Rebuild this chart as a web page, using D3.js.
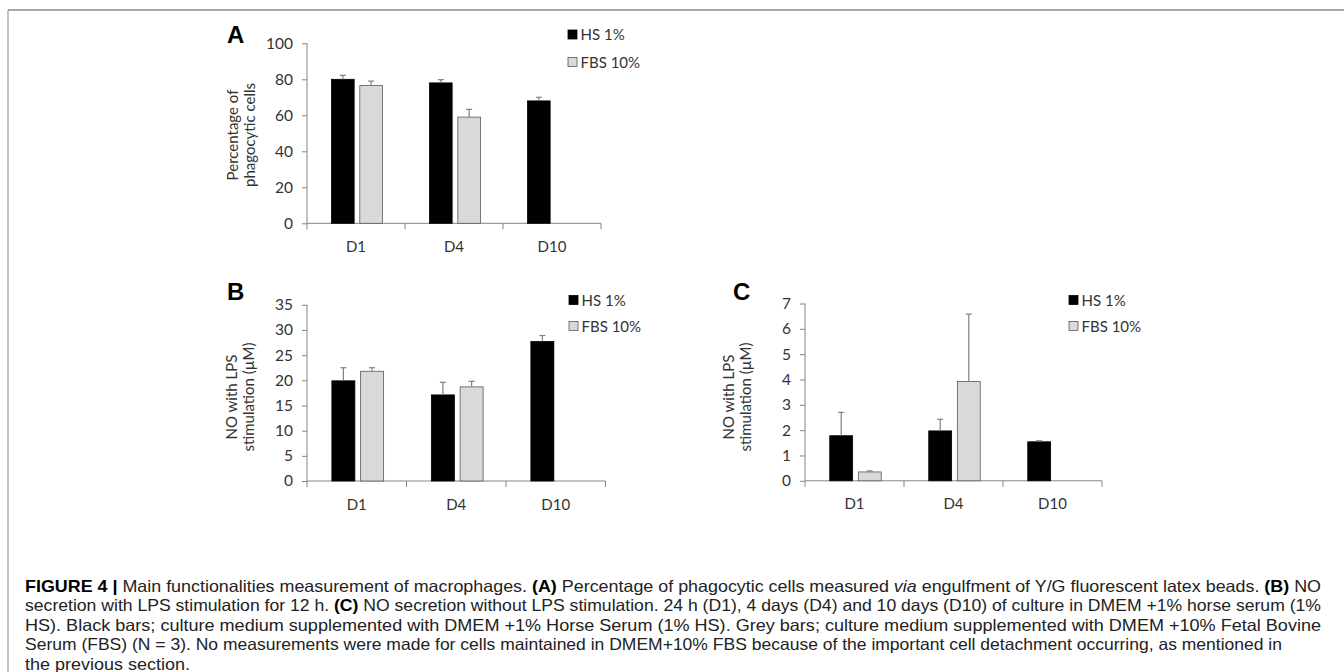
<!DOCTYPE html>
<html>
<head>
<meta charset="utf-8">
<script src="https://cdn.jsdelivr.net/npm/d3@7"></script>
<style>
  body { margin: 0; background: #fff; }
  svg { display: block; }
  .tick text { font-family: Lato, "Open Sans", sans-serif; font-size: 15.5px; fill: #333; }
  .axis path, .axis line { stroke: #858585; }
  .ytitle, .legend text { font-family: Lato, "Open Sans", sans-serif; font-size: 15px; fill: #333; }
  .panel-label { font-family: "Liberation Sans", Arial, sans-serif; font-weight: bold; font-size: 24px; }
  .caption { font-family: "Liberation Sans Narrow", "Liberation Sans", Arial, sans-serif; font-size: 16.5px; fill: #222; }
</style>
</head>
<body>
<svg id="fig" width="1344" height="672"></svg>
<script>
// categories and series
const categories = ["D1", "D4", "D10"];
const seriesNames = ["HS 1%", "FBS 10%"];

// A: percentage of phagocytic cells
const phagoHS = [80, 78, 68];
const phagoHSErr = [2.2, 1.8, 2.0];
const phagoFBS = [76.5, 59, null];
const phagoFBSErr = [2.5, 4.3, null];

// B: NO with LPS stimulation (µM)
const noLpsHS = [19.9, 17.1, 27.7];
const noLpsHSErr = [2.6, 2.5, 1.2];
const noLpsFBS = [21.8, 18.7, null];
const noLpsFBSErr = [0.7, 1.1, null];

// C: NO without LPS (axis title is the same in the figure)
const noBaseHS = [1.78, 1.97, 1.54];
const noBaseHSErr = [0.92, 0.46, 0.04];
const noBaseFBS = [0.35, 3.92, null];
const noBaseFBSErr = [0.04, 2.66, null];

const ticksA = [0, 20, 40, 60, 80, 100];
const ticksB = [0, 5, 10, 15, 20, 25, 30, 35];
const ticksC = [0, 1, 2, 3, 4, 5, 6, 7];

const captionLines = [
  [["b","FIGURE 4 | "],["n","Main functionalities measurement of macrophages. "],["b","(A) "],["n","Percentage of phagocytic cells measured "],["i","via"],["n"," engulfment of Y/G fluorescent latex beads. "],["b","(B) "],["n","NO"]],
  [["n","secretion with LPS stimulation for 12 h. "],["b","(C) "],["n","NO secretion without LPS stimulation. 24 h (D1), 4 days (D4) and 10 days (D10) of culture in DMEM +1% horse serum (1%"]],
  [["n","HS). Black bars; culture medium supplemented with DMEM +1% Horse Serum (1% HS). Grey bars; culture medium supplemented with DMEM +10% Fetal Bovine"]],
  [["n","Serum (FBS) (N = 3). No measurements were made for cells maintained in DMEM+10% FBS because of the important cell detachment occurring, as mentioned in"]],
  [["n","the previous section."]]
];
const captionWidths = [1296, 1296, 1296, 1257, 165];

const fills = ["#000000", "#d9d9d9"];
const strokes = ["#000000", "#595959"];

const svg = d3.select("#fig");

// figure frame: top rule and left rule
svg.append("line").attr("x1", 8).attr("x2", 1344).attr("y1", 10).attr("y2", 10)
  .attr("stroke", "#8a8a8a").attr("stroke-width", 1.5);
svg.append("line").attr("x1", 8).attr("x2", 8).attr("y1", 10).attr("y2", 672)
  .attr("stroke", "#8a8a8a").attr("stroke-width", 1);

function drawPanel(p) {
  const g = svg.append("g").attr("transform", `translate(${p.left},${p.top})`);

  const x0 = d3.scaleBand().domain(categories).range([0, p.width]);
  const bw = x0.bandwidth();
  const x1 = d3.scaleBand().domain(seriesNames)
    .range([bw * 0.25, bw * 0.77]).paddingInner(0.2);
  const y = d3.scaleLinear().domain([0, d3.max(p.ticks)]).range([p.height, 0]);

  // y axis
  g.append("g").attr("class", "axis")
    .call(d3.axisLeft(y).tickValues(p.ticks).tickFormat(d3.format("d"))
      .tickSize(5).tickPadding(9).tickSizeOuter(0))
    .call(a => a.select(".domain").attr("d", `M0,${p.height}V0`));

  // x axis with tick marks at category boundaries
  const xa = g.append("g").attr("class", "axis").attr("transform", `translate(0,${p.height})`);
  xa.append("line").attr("x1", 0).attr("x2", p.width);
  const bounds = categories.map(c => x0(c)).concat([p.width]);
  xa.selectAll("line.tk").data(bounds).join("line").attr("class", "tk")
    .attr("x1", d => d).attr("x2", d => d).attr("y1", 0).attr("y2", 6);
  xa.selectAll("text").data(categories).join("text")
    .attr("class", "ytitle")
    .attr("x", d => x0(d) + bw / 2).attr("y", 28.5)
    .attr("text-anchor", "middle").text(d => d);

  // bars
  const rows = [];
  p.series.forEach((s, si) => {
    s.values.forEach((v, ci) => {
      if (v == null) return;
      rows.push({ cat: categories[ci], name: seriesNames[si], si, v, e: s.errs[ci] });
    });
  });
  g.selectAll("rect.bar").data(rows).join("rect").attr("class", "bar")
    .attr("x", d => x0(d.cat) + x1(d.name))
    .attr("y", d => y(d.v))
    .attr("width", x1.bandwidth())
    .attr("height", d => p.height - y(d.v))
    .attr("fill", d => fills[d.si])
    .attr("stroke", d => strokes[d.si]).attr("stroke-width", 0.8);

  // plus-only error bars
  const eb = g.selectAll("g.err").data(rows.filter(d => d.e != null)).join("g").attr("class", "err")
    .attr("stroke", "#808080").attr("stroke-width", 1.2);
  eb.append("line")
    .attr("x1", d => x0(d.cat) + x1(d.name) + x1.bandwidth() / 2)
    .attr("x2", d => x0(d.cat) + x1(d.name) + x1.bandwidth() / 2)
    .attr("y1", d => y(d.v)).attr("y2", d => y(d.v + d.e));
  eb.append("line")
    .attr("x1", d => x0(d.cat) + x1(d.name) + x1.bandwidth() / 2 - 3)
    .attr("x2", d => x0(d.cat) + x1(d.name) + x1.bandwidth() / 2 + 3)
    .attr("y1", d => y(d.v + d.e)).attr("y2", d => y(d.v + d.e));

  // y title (two lines)
  const yt = svg.append("text").attr("class", "ytitle")
    .attr("transform", `translate(${p.titleX},${p.titleY}) rotate(-90)`)
    .attr("text-anchor", "middle");
  p.title.forEach((t, i) => yt.append("tspan").attr("x", 0).attr("dy", i ? 17 : 0).text(t));

  // panel letter
  svg.append("text").attr("class", "panel-label")
    .attr("x", p.labelX).attr("y", p.labelY).text(p.label);

  // legend
  const lg = svg.append("g").attr("class", "legend")
    .attr("transform", `translate(${p.legendX},${p.legendY})`);
  seriesNames.forEach((n, i) => {
    const row = lg.append("g").attr("transform", `translate(0,${i * p.legendGap})`);
    row.append("rect").attr("x", 0).attr("y", -4.5).attr("width", 9).attr("height", 9)
      .attr("fill", fills[i]).attr("stroke", strokes[i]).attr("stroke-width", 0.8);
    row.append("text").attr("x", 12.5).attr("y", 5.5).text(n);
  });
}

drawPanel({
  label: "A", labelX: 227, labelY: 43,
  left: 307, top: 43.3, width: 294, height: 180, ticks: ticksA,
  series: [{ values: phagoHS, errs: phagoHSErr }, { values: phagoFBS, errs: phagoFBSErr }],
  title: ["Percentage of", "phagocytic cells"], titleX: 238, titleY: 135,
  legendX: 568, legendY: 34.5, legendGap: 27.5
});

drawPanel({
  label: "B", labelX: 227, labelY: 300,
  left: 307, top: 304.8, width: 298.5, height: 176.2, ticks: ticksB,
  series: [{ values: noLpsHS, errs: noLpsHSErr }, { values: noLpsFBS, errs: noLpsFBSErr }],
  title: ["NO with LPS", "stimulation (µM)"], titleX: 237, titleY: 397,
  legendX: 569, legendY: 300, legendGap: 26
});

drawPanel({
  label: "C", labelX: 733, labelY: 300,
  left: 805, top: 303.5, width: 297, height: 177.3, ticks: ticksC,
  series: [{ values: noBaseHS, errs: noBaseHSErr }, { values: noBaseFBS, errs: noBaseFBSErr }],
  title: ["NO with LPS", "stimulation (µM)"], titleX: 734, titleY: 397,
  legendX: 1069, legendY: 300, legendGap: 26
});

// caption
captionLines.forEach((parts, i) => {
  const t = svg.append("text").attr("class", "caption")
    .attr("x", 25).attr("y", 592 + i * 19.4)
    .attr("textLength", captionWidths[i]).attr("lengthAdjust", "spacingAndGlyphs");
  parts.forEach(([k, s]) => {
    const ts = t.append("tspan").text(s);
    if (k === "b") ts.attr("font-weight", "bold").attr("fill", "#000");
    if (k === "i") ts.attr("font-style", "italic");
  });
});
</script>
</body>
</html>
